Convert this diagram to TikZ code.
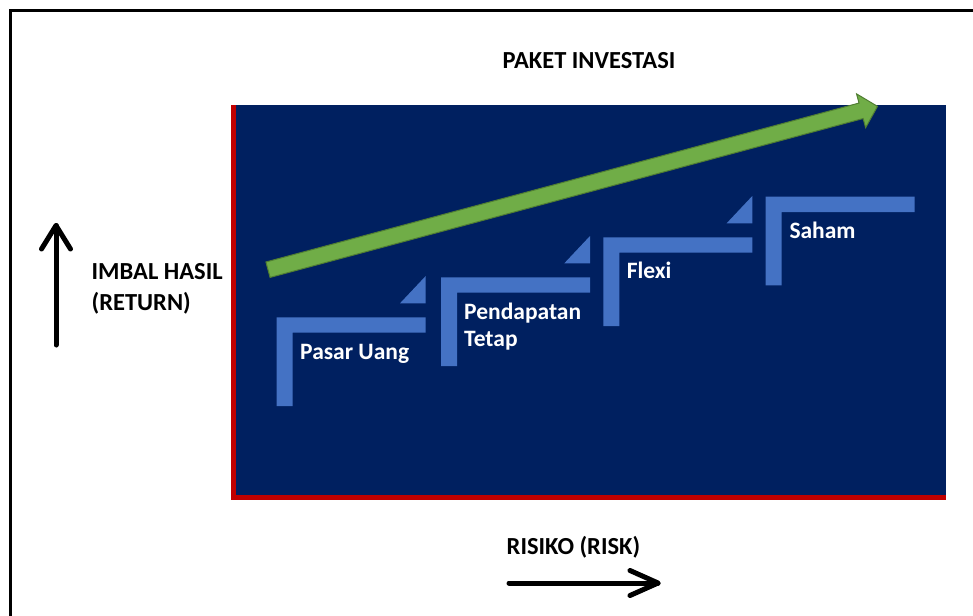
\documentclass[tikz,border=0pt]{standalone}
\usepackage{fontspec}
\setmainfont{Carlito}
\usetikzlibrary{calc}
\definecolor{navybg}{HTML}{002060}
\definecolor{redline}{HTML}{C00000}
\definecolor{stepblue}{HTML}{4472C4}
\definecolor{greenfill}{HTML}{70AD47}
\definecolor{greenedge}{HTML}{507E32}
\begin{document}
\begin{tikzpicture}[x=1pt,y=-1pt,
  lbl/.style={inner sep=0pt, anchor=base west, font=\fontsize{24.5}{29}\selectfont\bfseries, text=black},
  steplbl/.style={lbl, font=\fontsize{23.5}{28}\selectfont\bfseries, text=white},
  stepshape/.style={fill=stepblue},
  axisline/.style={line width=5pt, line cap=round, line join=round, black}]
\useasboundingbox (0,0) rectangle (973,615);
\fill[white] (0,0) rectangle (973,615);
\clip (0,0) rectangle (973,615);
% outer frame
\draw[line width=3pt] (10.5,700) -- (10.5,10.5) -- (1000,10.5);
% chart area
\fill[navybg] (236,105) rectangle (946,495);
\fill[redline] (231,105) rectangle (236,500);
\fill[redline] (231,495) rectangle (946,500);
% steps
\foreach \x/\y/\t in {276.7/317.3/1, 441/277.3/1, 603.3/237.3/1, 765.7/196.7/0}{
  \fill[stepshape] (\x,\y) -- ++(149,0) -- ++(0,15.4) -- ++(-133,0) -- ++(0,73.3) -- ++(-16,0) -- cycle;
  \ifnum\t=1
    \fill[stepshape] (\x+123.3,\y-14) -- (\x+149,\y-14) -- (\x+149,\y-41.3) -- cycle;
  \fi
}
% green arrow
\begin{scope}[shift={(268,269.7)}, rotate=15]
  \filldraw[fill=greenfill, draw=greenedge, line width=1pt, line join=miter]
    (0,-8) -- (614,-8) -- (614,-17.5) -- (631,0) -- (614,17.5) -- (614,8) -- (0,8) -- cycle;
\end{scope}
% labels
\node[lbl] (title) at (502.5,69) {PAKET INVESTASI};
\node[lbl] (ret1) at (91.5,279) {IMBAL HASIL};
\node[lbl] (ret2) at (91.5,310.5) {(RETURN)};
\node[lbl] (risk) at (506.5,554) {RISIKO (RISK)};
\node[steplbl] (s1) at (300,359.3) {Pasar Uang};
\node[steplbl] (s2a) at (464,319.3) {Pendapatan};
\node[steplbl] (s2b) at (464,346.5) {Tetap};
\node[steplbl] (s3) at (626.7,278) {Flexi};
\node[steplbl] (s4) at (789.3,238.3) {Saham};
% axis arrows
\coordinate (upS) at (56,345);
\coordinate (upT) at (56,225.5);
\draw[axisline] (upS) -- (upT);
\draw[axisline] ($(upT)+(-14.5,23.5)$) -- (upT) -- ($(upT)+(14.5,23.5)$);
\coordinate (rtS) at (509,583);
\coordinate (rtT) at (658,583);
\draw[axisline] (rtS) -- (rtT);
\draw[axisline] ($(rtT)+(-28,-12.5)$) -- (rtT) -- ($(rtT)+(-28,12.5)$);
\end{tikzpicture}
\end{document}
